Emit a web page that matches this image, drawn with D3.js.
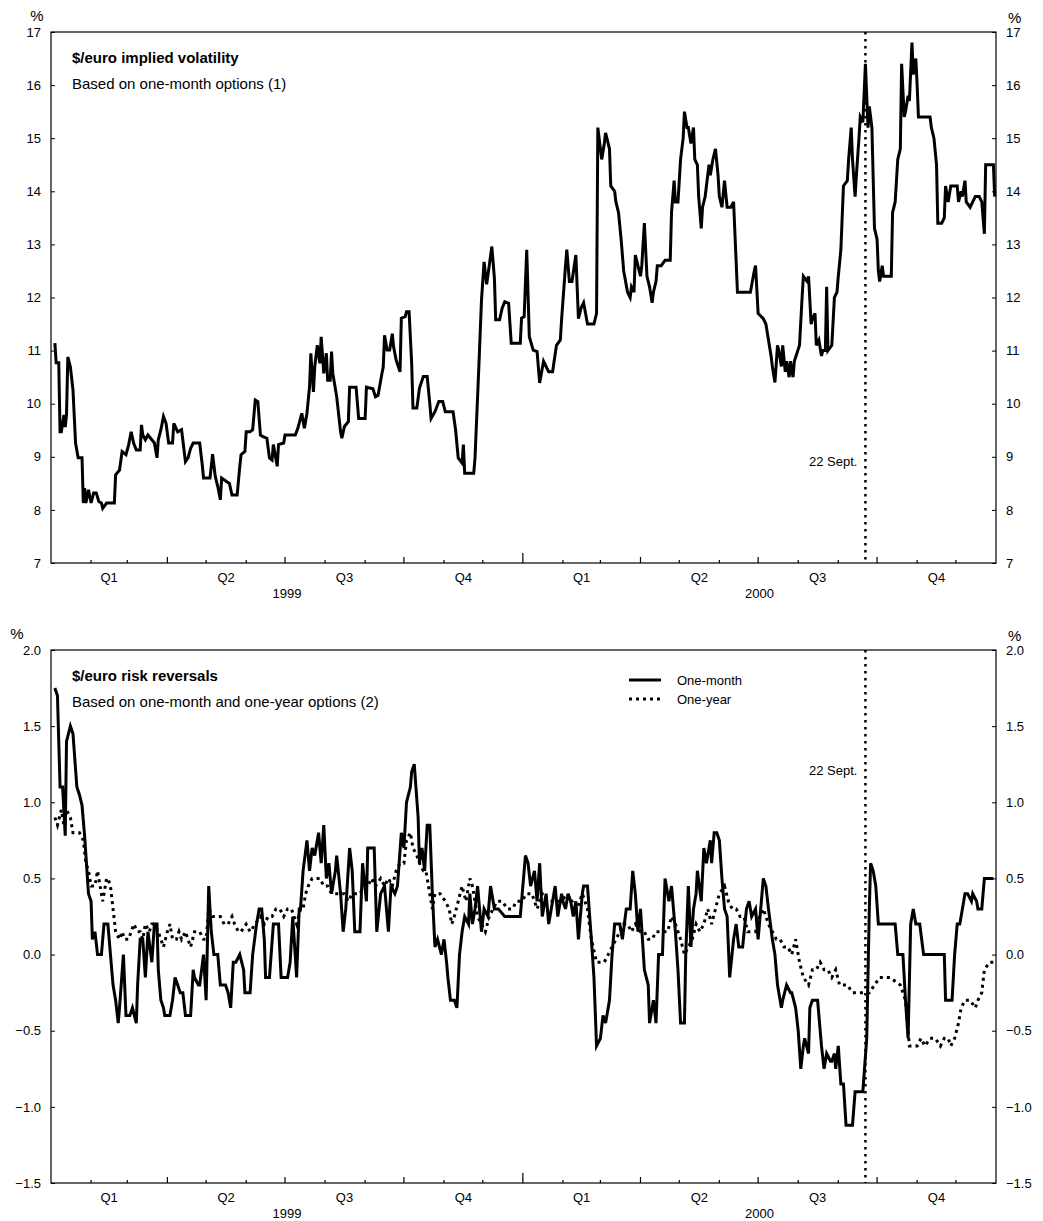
<!DOCTYPE html>
<meta charset="utf-8">
<style>
    body {
        margin: 0;
        padding: 0;
        background: #fff;
    }
    text {
        font-family: "Liberation Sans", Arial, sans-serif;
        fill: #000;
    }
    .axis text {
        font-size: 13px;
    }
    .axis line {
        stroke: #000;
    }
</style>
<body>
<script src="https://cdn.jsdelivr.net/npm/d3@7"></script>
<script>
    // all day numbers count from 1 Jan 1999
    var volDays = [
        3,4,6,7,8,10,11,12,13,15, 17,19,21,24,25,26,27,29,31,33,
        35,37,39,40,43,49,50,53,55,58, 60,62,64,66,69,70,71,73,75,78,
        80,82,83,85,87,89,91,94,95,98, 101,104,106,108,110,115,117,118,123,125,
        127,129,131,132,136,138,140,144,146,147, 150,151,154,156,158,160,162,164,167,169,
        171,172,175,176,180,181,189,191,194,196, 198,200,201,203,204,206,208,209,211,213,
        214,216,217,218,221,224,225,227,230,231, 236,238,243,244,249,251,253,256,257,258,
        260,262,264,265,267,270,271,274,275,277, 279,280,283,285,288,291,293,294,297,300,
        303,305,311,313,315,318,319,320,327,328, 331,333,335,337,339,341,343,344,347,349,
        351,354,356,363,364,366,368,370,373,376, 378,381,383,385,388,391,394,395,398,399,
        401,403,406,408,410,412,415,420,422,423, 425,426,428,429,432,433,436,437,439,441,
        443,446,448,449,451,452,454,456,457,459, 461,463,465,466,468,469,472,475,479,480,
        482,483,485,487,489,490,492,493,495,497, 498,500,501,503,504,506,507,509,510,512,
        514,516,517,519,521,523,526,528,531,541, 544,545,547,551,553,555,557,558,560,562,
        563,565,566,568,569,571,572,574,575,579, 581,582,585,586,588,589,591,592,594,596,
        597,599,600,601,604,606,608,609,611,613, 616,617,619,620,622,623,625,626,628,630,
        631,632,633,634,635,637,639,640,641,643, 644,650,651,653,655,657,658,660,661,663,
        664,666,667,669,670,671,680,681,683,685, 686,689,691,692,694,696,701,702,704,705,
        707,708,711,713,715,718,720,722,723,729, 730
    ];
    var volValues = [
        11.14,10.77,10.77,9.47,9.47,9.79,9.56,9.79,10.88,10.69, 10.26,9.26,8.98,8.98,8.13,8.41,8.13,8.38,8.13,8.32,
        8.32,8.16,8.13,8.03,8.13,8.13,8.66,8.75,9.1,9.04, 9.22,9.47,9.25,9.13,9.13,9.6,9.41,9.32,9.41,9.32,
        9.26,8.98,9.32,9.51,9.76,9.63,9.26,9.26,9.63,9.47, 9.51,8.91,8.98,9.16,9.26,9.26,8.85,8.6,8.6,9.05,
        8.64,8.44,8.19,8.6,8.53,8.5,8.28,8.28,8.81,9.04, 9.1,9.47,9.47,9.51,10.07,10.04,9.41,9.38,9.35,8.98,
        8.94,9.23,8.82,9.23,9.26,9.41,9.41,9.54,9.82,9.54, 9.82,10.32,10.95,10.22,10.69,11.1,10.76,11.26,10.57,10.95,
        10.44,10.44,10.98,10.57,10.13,9.47,9.35,9.57,9.66,10.31, 10.31,9.72,9.72,10.31,10.28,10.13,10.16,10.57,10.69,11.29,
        11.01,11.01,11.32,11.07,10.82,10.6,11.61,11.64,11.73,11.73, 10.76,9.92,9.92,10.29,10.51,10.51,10.01,9.72,9.85,10.04,
        10.04,9.85,9.85,9.5,8.98,8.88,9.23,8.69,8.69,8.98, 10.72,11.95,12.67,12.25,12.6,12.96,12.36,11.58,11.58,11.8,
        11.92,11.89,11.14,11.14,11.61,11.64,12.9,11.26,11.01,10.98, 10.39,10.8,10.7,10.6,10.6,11.1,11.2,11.6,12.6,12.9,
        12.3,12.3,12.8,11.6,11.8,11.9,11.5,11.5,11.7,15.2, 14.8,14.6,14.9,15.1,14.8,14.1,14.0,13.8,13.6,13.1,
        12.5,12.1,12.0,12.2,12.1,12.8,12.6,12.4,12.6,13.4, 12.4,12.2,11.9,12.1,12.3,12.6,12.6,12.7,12.7,13.6,
        14.2,13.8,13.8,14.6,15.0,15.5,15.2,15.2,14.9,15.2, 14.6,14.5,13.9,13.3,13.7,13.9,14.1,14.5,14.3,14.6,
        14.8,14.3,13.9,13.7,14.2,13.7,13.7,13.8,12.1,12.1, 12.5,12.6,11.7,11.6,11.5,11.2,10.9,10.7,10.4,11.1,
        11.0,10.7,11.1,10.6,10.8,10.5,10.8,10.5,10.8,11.1, 12.0,12.4,12.3,12.4,11.5,11.6,11.7,11.1,11.2,10.9,
        11.0,11.0,12.2,11.0,11.1,12.0,12.1,12.4,12.9,14.1, 14.2,14.6,15.2,14.6,13.9,14.3,15.0,15.4,15.3,16.4,
        15.8,15.2,15.6,15.4,15.2,13.3,13.1,12.5,12.3,12.6, 12.4,12.4,13.6,13.8,14.6,14.8,16.4,15.4,15.5,15.8,
        15.7,16.8,16.2,16.5,16.0,15.4,15.4,15.2,15.0,14.5, 13.4,13.4,13.5,14.1,13.8,14.1,14.1,13.8,14.0,13.9,
        14.2,13.8,13.7,13.8,13.9,13.9,13.8,13.2,14.5,14.5, 13.9
    ];

    var monthDays = [
        3,5,7,9,11,12,15,17,20,22, 24,26,29,31,32,34,36,39,41,44,
        46,48,50,52,53,56,58,61,63,66, 67,69,71,73,75,78,80,82,83,85,
        87,88,92,94,96,98,100,102,104,108, 110,111,114,115,118,120,122,124,126,129,
        131,135,137,139,141,143,146,149,150,154, 156,159,161,163,165,166,169,172,176,178,
        183,185,187,190,192,193,195,198,200,202, 204,207,209,211,213,215,217,220,221,224,
        226,228,231,233,235,239,241,244,245,250, 252,255,258,261,263,266,268,271,273,275,
        278,279,281,284,285,287,289,291,293,295, 297,299,302,304,306,307,309,312,314,316,
        318,320,323,324,326,328,330,333,335,338, 340,343,346,351,363,367,369,371,374,376,
        378,380,383,385,388,390,392,395,396,398, 400,402,404,406,408,411,412,415,418,420,
        422,425,427,429,432,434,436,440,442,445, 448,450,452,454,456,459,462,463,466,468,
        470,473,475,478,480,483,485,487,490,491, 493,495,497,499,500,503,505,507,510,511,
        513,515,517,519,521,523,525,528,530,532, 535,538,540,542,545,547,548,551,553,555,
        558,560,562,565,566,569,572,573,576,578, 580,582,583,586,587,589,593,594,596,598,
        600,603,604,606,607,609,611,613,615,620, 622,628,631,633,634,636,638,640,653,655,
        659,661,663,665,667,669,672,675,691,692, 697,699,701,703,705,707,709,712,713,716,
        717,720,722,729
    ];
    var monthValues = [
        1.75,1.7,1.1,1.1,0.78,1.4,1.5,1.45,1.1,1.05, 0.98,0.78,0.4,0.35,0.1,0.15,0.0,0.0,0.2,0.2,
        0.0,-0.2,-0.3,-0.45,-0.35,0.0,-0.4,-0.4,-0.35,-0.45, -0.2,0.1,0.1,-0.15,0.15,-0.05,0.2,0.2,-0.1,-0.3,
        -0.35,-0.4,-0.4,-0.3,-0.15,-0.2,-0.25,-0.25,-0.4,-0.4, -0.1,-0.15,-0.2,-0.2,0.0,-0.3,0.45,0.15,0.0,0.0,
        -0.2,-0.2,-0.25,-0.35,-0.05,-0.05,0.0,-0.1,-0.25,-0.25, 0.0,0.2,0.3,0.3,0.1,-0.15,-0.15,0.2,0.2,-0.15,
        -0.15,-0.05,0.25,-0.15,0.3,0.3,0.55,0.75,0.55,0.7, 0.65,0.8,0.6,0.85,0.5,0.6,0.4,0.55,0.65,0.4,
        0.15,0.3,0.7,0.55,0.15,0.15,0.6,0.35,0.7,0.7, 0.15,0.4,0.45,0.15,0.45,0.4,0.45,0.8,0.7,1.0,
        1.1,1.2,1.25,0.9,0.6,0.7,0.55,0.85,0.85,0.4, 0.05,0.1,0.0,0.1,-0.05,-0.15,-0.3,-0.3,-0.35,0.0,
        0.15,0.25,0.2,0.4,0.2,0.3,0.45,0.15,0.3,0.25, 0.45,0.3,0.3,0.25,0.25,0.65,0.6,0.45,0.55,0.35,
        0.6,0.25,0.4,0.2,0.35,0.45,0.25,0.4,0.35,0.3, 0.4,0.35,0.25,0.35,0.1,0.4,0.45,0.45,0.1,-0.15,
        -0.6,-0.55,-0.4,-0.45,-0.3,0.0,0.2,0.2,0.1,0.3, 0.3,0.55,0.4,0.15,0.3,-0.1,-0.2,-0.45,-0.3,-0.45,
        0.0,0.0,0.5,0.35,0.45,0.15,-0.1,-0.45,-0.45,0.0, 0.45,0.05,0.3,0.4,0.55,0.35,0.7,0.6,0.75,0.6,
        0.8,0.8,0.75,0.5,0.3,0.25,-0.15,0.1,0.2,0.05, 0.05,0.3,0.35,0.25,0.3,0.1,0.2,0.5,0.45,0.3,
        0.1,0.0,-0.2,-0.35,-0.3,-0.2,-0.25,-0.25,-0.35,-0.5, -0.75,-0.6,-0.55,-0.65,-0.35,-0.3,-0.3,-0.4,-0.6,-0.75,
        -0.65,-0.7,-0.7,-0.65,-0.75,-0.6,-0.85,-0.85,-1.12,-1.12, -0.9,-0.9,-0.55,0.3,0.6,0.55,0.45,0.2,0.2,0.0,
        0.0,-0.3,-0.55,0.2,0.3,0.2,0.2,0.0,0.0,-0.3, -0.3,0.0,0.2,0.2,0.3,0.4,0.4,0.35,0.4,0.35,
        0.3,0.3,0.5,0.5
    ];

    var yearDays = [
        3,5,8,10,12,15,17,22,25,27, 29,31,34,36,38,40,43,44,46,48,
        50,53,55,57,60,62,64,67,69,71, 73,76,78,80,83,85,87,90,92,94,
        97,99,101,104,106,108,111,115,118,120, 122,125,128,131,134,137,140,142,145,147,
        151,154,158,162,165,168,171,174,177,180, 183,186,190,193,195,197,199,202,205,208,
        211,214,217,220,224,227,230,233,236,239, 242,245,248,251,255,258,261,264,267,270,
        273,275,278,280,283,285,288,290,292,295, 297,301,305,308,310,312,315,318,321,324,
        326,330,333,336,339,342,345,349,353,357, 360,364,368,372,376,380,384,388,391,395,
        399,403,407,411,415,418,422,428,431,434, 437,440,443,446,449,452,456,459,462,465,
        468,477,480,483,487,490,493,496,499,502, 505,508,511,514,517,521,524,527,530,533,
        536,539,545,548,551,555,558,561,564,567, 570,573,576,579,582,586,589,592,595,598,
        601,604,607,610,616,620,633,637,641,649, 657,661,664,667,670,673,676,680,684,688,
        691,694,696,699,702,704,707,711,715,717, 720,722,726,729
    ];
    var yearValues = [
        0.9,0.85,0.95,0.85,0.95,0.9,0.8,0.8,0.75,0.6, 0.55,0.45,0.45,0.55,0.45,0.35,0.5,0.5,0.45,0.3,
        0.15,0.1,0.15,0.1,0.1,0.15,0.2,0.15,0.15,0.1, 0.2,0.15,0.2,0.2,0.15,0.1,0.05,0.15,0.2,0.1,
        0.1,0.15,0.1,0.15,0.1,0.05,0.15,0.15,0.1,0.1, 0.3,0.25,0.25,0.25,0.2,0.2,0.25,0.2,0.15,0.15,
        0.2,0.15,0.2,0.25,0.2,0.25,0.25,0.3,0.3,0.25, 0.3,0.3,0.2,0.3,0.3,0.4,0.45,0.5,0.5,0.5,
        0.45,0.45,0.4,0.4,0.4,0.4,0.35,0.4,0.4,0.4, 0.45,0.45,0.5,0.45,0.5,0.45,0.5,0.45,0.55,0.6,
        0.6,0.75,0.8,0.7,0.65,0.6,0.55,0.55,0.45,0.3, 0.4,0.4,0.35,0.3,0.2,0.25,0.35,0.45,0.35,0.5,
        0.45,0.25,0.2,0.15,0.25,0.3,0.35,0.35,0.3,0.3, 0.35,0.35,0.4,0.4,0.3,0.4,0.35,0.35,0.35,0.35,
        0.4,0.35,0.3,0.4,0.3,0.1,-0.05,-0.05,0.0,0.05, 0.1,0.15,0.2,0.2,0.15,0.2,0.15,0.15,0.1,0.1,
        0.15,0.15,0.25,0.2,0.1,0.0,0.05,0.1,0.2,0.15, 0.2,0.3,0.2,0.3,0.4,0.45,0.35,0.3,0.3,0.25,
        0.25,0.15,0.15,0.25,0.3,0.2,0.15,0.1,0.1,0.05, 0.05,0.0,0.1,-0.05,-0.15,-0.2,-0.1,-0.1,-0.05,-0.1,
        -0.1,-0.15,-0.1,-0.2,-0.2,-0.25,-0.25,-0.2,-0.15,-0.15, -0.2,-0.3,-0.6,-0.6,-0.6,-0.55,-0.6,-0.55,-0.55,-0.6,
        -0.55,-0.55,-0.6,-0.55,-0.45,-0.35,-0.3,-0.3,-0.35,-0.3, -0.25,-0.1,-0.05,-0.05
    ];

    var volTicks = [7, 8, 9, 10, 11, 12, 13, 14, 15, 16, 17];
    var rrTicks = [-1.5, -1.0, -0.5, 0.0, 0.5, 1.0, 1.5, 2.0];
    var quarterLabels = ["Q1", "Q2", "Q3", "Q4"];
    var legendLabels = ["One-month", "One-year"];
    var eventDay = "2000-09-22";
    var eventLabel = "22 Sept.";

    var width = 1043, height = 1221;
    var left = 51, right = 996;
    var start = new Date(Date.UTC(1999, 0, 1)),
        end = new Date(Date.UTC(2001, 0, 1));

    var svg = d3.select("body")
        .append("svg")
        .attr("width", width)
        .attr("height", height);

    var x = d3.scaleUtc().domain([start, end]).range([left, right]);

    function toPoints(days, values) {
        return days.map(function(d, i) {
            return {date: d3.utcDay.offset(start, d), value: values[i]};
        });
    }

    function drawPanel(p) {
        var y = d3.scaleLinear().domain(p.domain).range([p.bottom, p.top]);
        var g = svg.append("g");

        g.append("rect")
            .attr("x", left).attr("y", p.top)
            .attr("width", right - left).attr("height", p.bottom - p.top)
            .attr("fill", "none").attr("stroke", "#000").attr("stroke-width", 1.2);

        g.append("g").attr("class", "axis")
            .attr("transform", "translate(" + left + ",0)")
            .call(d3.axisLeft(y).tickValues(p.ticks).tickFormat(p.fmt)
                .tickSizeInner(-4).tickSizeOuter(0).tickPadding(10))
            .call(function(a) { a.select(".domain").remove(); });

        g.append("g").attr("class", "axis")
            .attr("transform", "translate(" + right + ",0)")
            .call(d3.axisRight(y).tickValues(p.ticks).tickFormat(p.fmt)
                .tickSizeInner(-4).tickSizeOuter(0).tickPadding(10))
            .call(function(a) { a.select(".domain").remove(); });

        // month / quarter / year ticks on the time axis
        var months = d3.utcMonth.range(d3.utcMonth.offset(start, 1), end);
        g.append("g").selectAll("line")
            .data(months)
            .enter().append("line")
            .attr("x1", function(d) { return x(d); })
            .attr("x2", function(d) { return x(d); })
            .attr("y1", p.bottom)
            .attr("y2", function(d) {
                var m = d.getUTCMonth();
                return p.bottom - (m === 0 ? 10 : (m % 3 === 0 ? 6 : 3));
            })
            .attr("stroke", "#000").attr("stroke-width", 1.2);

        var quarters = d3.utcMonth.every(3).range(start, end);
        g.append("g").selectAll("text")
            .data(quarters)
            .enter().append("text")
            .attr("x", function(d) { return (x(d) + x(d3.utcMonth.offset(d, 3))) / 2; })
            .attr("y", p.bottom + 19)
            .attr("text-anchor", "middle")
            .style("font-size", "13px")
            .text(function(d, i) { return quarterLabels[i % 4]; });

        var years = d3.utcYear.range(start, end);
        g.append("g").selectAll("text")
            .data(years)
            .enter().append("text")
            .attr("x", function(d) { return (x(d) + x(d3.utcYear.offset(d, 1))) / 2; })
            .attr("y", p.bottom + 35)
            .attr("text-anchor", "middle")
            .style("font-size", "13px")
            .text(function(d) { return d.getUTCFullYear(); });

        // % unit labels
        g.append("text").attr("x", p.pctLeft).attr("y", p.top - 11)
            .attr("text-anchor", "middle").style("font-size", "15px").text("%");
        g.append("text").attr("x", right + 12).attr("y", p.top - 9)
            .style("font-size", "15px").text("%");

        g.append("text").attr("x", 72).attr("y", p.top + 31)
            .style("font-size", "15px").style("font-weight", "bold").text(p.title);
        g.append("text").attr("x", 72).attr("y", p.top + 57)
            .style("font-size", "15px").text(p.subtitle);

        // event marker
        var ex = x(d3.utcParse("%Y-%m-%d")(eventDay));
        g.append("line")
            .attr("x1", ex).attr("x2", ex)
            .attr("y1", p.top).attr("y2", p.bottom)
            .attr("stroke", "#000").attr("stroke-width", 2.5)
            .attr("stroke-dasharray", "2.5,4.5");
        g.append("text")
            .attr("x", ex - 8).attr("y", p.eventY)
            .attr("text-anchor", "end")
            .style("font-size", "13px")
            .text(eventLabel);

        return y;
    }

    var y1 = drawPanel({
        top: 32, bottom: 563, domain: [7, 17], ticks: volTicks,
        fmt: d3.format("d"), pctLeft: 37, eventY: 466,
        title: "$/euro implied volatility",
        subtitle: "Based on one-month options (1)"
    });

    var y2 = drawPanel({
        top: 650, bottom: 1183, domain: [-1.5, 2.0], ticks: rrTicks,
        fmt: d3.format(".1f"), pctLeft: 17, eventY: 775,
        title: "$/euro risk reversals",
        subtitle: "Based on one-month and one-year options (2)"
    });

    function addLine(data, y, dash) {
        var line = d3.line()
            .x(function(d) { return x(d.date); })
            .y(function(d) { return y(d.value); });
        svg.append("path")
            .datum(data)
            .attr("d", line)
            .attr("fill", "none")
            .attr("stroke", "#000")
            .attr("stroke-width", 3)
            .attr("stroke-linejoin", "miter")
            .attr("stroke-dasharray", dash);
    }

    addLine(toPoints(volDays, volValues), y1, null);
    addLine(toPoints(yearDays, yearValues), y2, "3,4");
    addLine(toPoints(monthDays, monthValues), y2, null);

    // legend
    var legend = svg.append("g").attr("transform", "translate(629,680)");
    legend.selectAll("line")
        .data(legendLabels)
        .enter().append("line")
        .attr("x1", 0).attr("x2", 32)
        .attr("y1", function(d, i) { return i * 19; })
        .attr("y2", function(d, i) { return i * 19; })
        .attr("stroke", "#000").attr("stroke-width", 3)
        .attr("stroke-dasharray", function(d, i) { return i ? "3,4" : null; });
    legend.selectAll("text")
        .data(legendLabels)
        .enter().append("text")
        .attr("x", 48)
        .attr("y", function(d, i) { return i * 19 + 5; })
        .style("font-size", "13px")
        .text(function(d) { return d; });
</script>
</body>
</html>
